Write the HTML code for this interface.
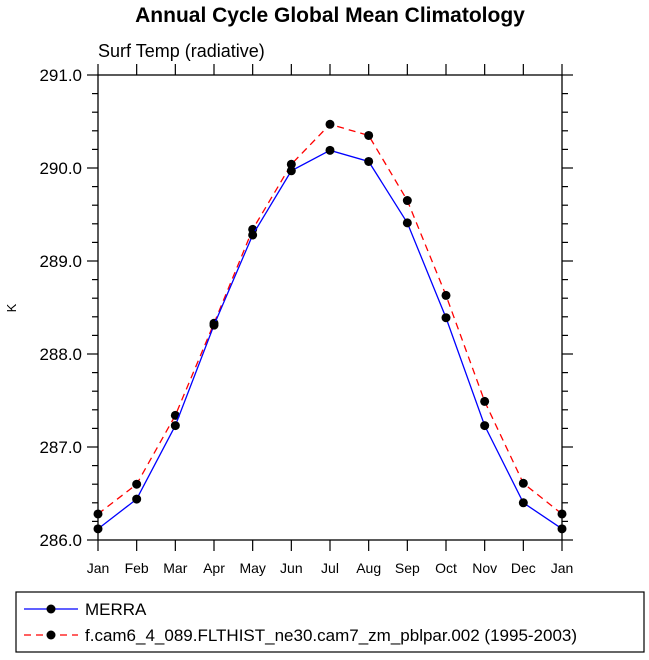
<!DOCTYPE html>
<html><head><meta charset="utf-8"><style>
body{margin:0;background:#fff;}
svg{display:block;font-family:"Liberation Sans",Helvetica,sans-serif;}
</style></head><body>
<svg width="649" height="660" viewBox="0 0 649 660">
<text x="330" y="22" text-anchor="middle" font-size="21" font-weight="bold">Annual Cycle Global Mean Climatology</text>
<text x="98" y="57" font-size="18">Surf Temp (radiative)</text>
<text transform="translate(16,308) rotate(-90)" text-anchor="middle" font-size="13">K</text>
<g id="axes"></g>
<g id="series"></g>
<rect x="16" y="592" width="628" height="60" fill="none" stroke="#000" stroke-width="1.2"/>
<g>
<line x1="24" y1="609" x2="78" y2="609" stroke="#00f" stroke-width="1.3"/>
<circle cx="51" cy="609" r="4.5" fill="#000"/>
<text x="85" y="615" font-size="17">MERRA</text></g>
<g>
<line x1="24" y1="635" x2="78" y2="635" stroke="#f00" stroke-width="1.3" stroke-dasharray="7,5"/>
<circle cx="51" cy="635" r="4.5" fill="#000"/>
<text x="85" y="641" font-size="17">f.cam6_4_089.FLTHIST_ne30.cam7_zm_pblpar.002 (1995-2003)</text></g>
</svg>
<script>
const months=["Jan","Feb","Mar","Apr","May","Jun","Jul","Aug","Sep","Oct","Nov","Dec","Jan"];
const merra=[286.12,286.44,287.23,288.31,289.28,289.97,290.19,290.07,289.41,288.39,287.23,286.40,286.12];
const model=[286.28,286.60,287.34,288.33,289.34,290.04,290.47,290.35,289.65,288.63,287.49,286.61,286.28];
const yTicks=[286,287,288,289,290,291];
const L=98,R=562,T=75,B=540,ymin=286,ymax=291;
const xs=i=>L+i*(R-L)/12;
const ys=v=>B-(v-ymin)/(ymax-ymin)*(B-T);
const NS="http://www.w3.org/2000/svg";
function mk(tag,at,parent){const e=document.createElementNS(NS,tag);for(const k in at)e.setAttribute(k,at[k]);parent.appendChild(e);return e;}
const ax=document.getElementById('axes');
const fr=mk('rect',{x:L,y:T,width:R-L,height:B-T,fill:'none',stroke:'#000','stroke-width':1.3},ax);


months.forEach((m,i)=>{
 const x=xs(i);
 mk('line',{x1:x,y1:B,x2:x,y2:B+11,stroke:'#000','stroke-width':1.2},ax);
 mk('line',{x1:x,y1:T,x2:x,y2:T-11,stroke:'#000','stroke-width':1.2},ax);
 const t=mk('text',{x:x,y:B+33,'text-anchor':'middle','font-size':14},ax);
 t.textContent=m;
 
 
});
for(let v=ymin;v<=ymax+1e-9;v+=0.2){
 const y=ys(v);const major=Math.abs(v-Math.round(v))<1e-6;
 const len=major?11:6;
 mk('line',{x1:L,y1:y,x2:L-len,y2:y,stroke:'#000','stroke-width':1.2},ax);
 mk('line',{x1:R,y1:y,x2:R+len,y2:y,stroke:'#000','stroke-width':1.2},ax);
}
yTicks.forEach(v=>{
 const t=mk('text',{x:L-16,y:ys(v)+6,'text-anchor':'end','font-size':17},ax);
 t.textContent=v.toFixed(1);
 
 
});
const sg=document.getElementById('series');
function draw(vals,color,dash,name){
 const p=mk('polyline',{points:vals.map((v,i)=>xs(i)+','+ys(v)).join(' '),fill:'none',stroke:color,'stroke-width':1.3,'stroke-dasharray':dash},sg);
 
 
 vals.forEach((v,i)=>{
  const c=mk('circle',{cx:xs(i),cy:ys(v),r:4.5,fill:'#000'},sg);
  
  
 });
}
draw(model,'#f00','7,5','model');
draw(merra,'#00f','none','merra');
</script>
</body></html>
